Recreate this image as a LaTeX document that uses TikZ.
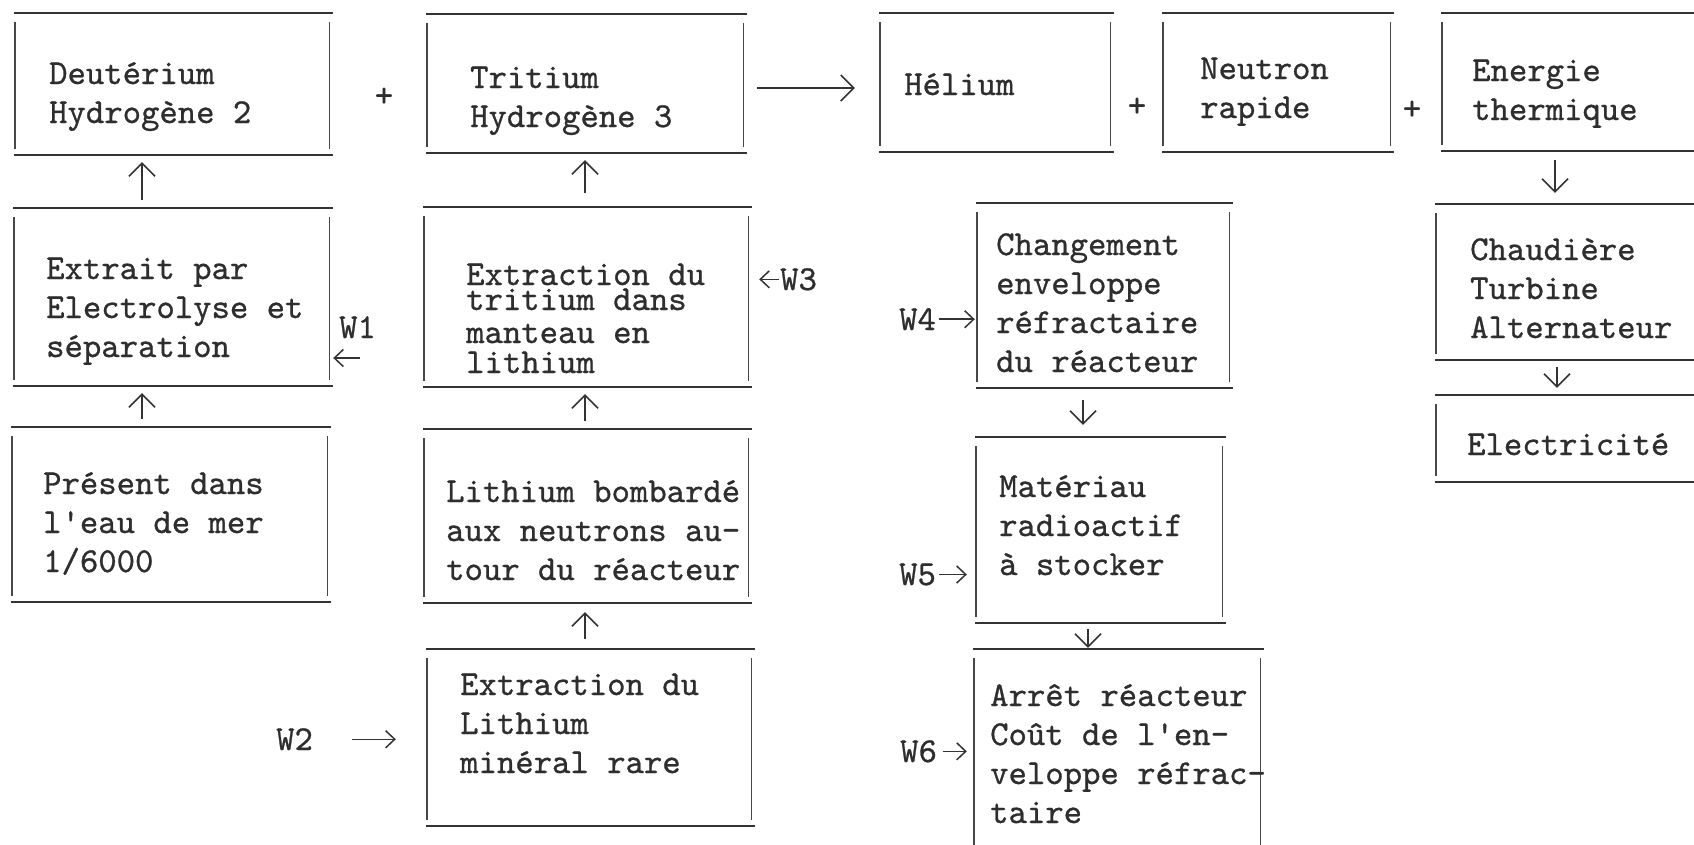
\documentclass[tikz,border=0pt]{standalone}
\usepackage{fontspec}
\newfontfamily\twfont{lmmono10-regular.otf}[FakeBold=0.8]
\usetikzlibrary{arrows.meta}
\begin{document}
\begin{tikzpicture}[x=1pt,y=-1pt,
  tbox/.style={draw=none, inner sep=0pt},
  hline/.style={draw=black!80, line width=2.1pt},
  vline/.style={draw=black!72, line width=1.4pt},
  txt/.style={anchor=base west, inner sep=0pt, align=left,
    font=\twfont\fontsize{35}{39}\selectfont, text=black!82},
  arr/.style={draw=black!80, line width=1.5pt,
    -{Straight Barb[length=13pt,width=26pt,line width=1.5pt]}},
  warr/.style={draw=black!80, line width=1.5pt,
    -{Straight Barb[length=9pt,width=17pt,line width=1.5pt]}}]
\useasboundingbox (0,0) rectangle (1694,844);
\clip (0,0) rectangle (1694,844);
% boxes
\node[tbox, minimum width=314pt, minimum height=142pt] (b1) at (172,84) {};
\node[tbox, minimum width=316pt, minimum height=139pt] (b2) at (585,83.5) {};
\node[tbox, minimum width=230pt, minimum height=139pt] (b3) at (995,82.5) {};
\node[tbox, minimum width=227pt, minimum height=139pt] (b3b) at (1276.5,82.5) {};
\node[tbox, minimum width=278pt, minimum height=138pt] (b3c) at (1581,82) {};
\node[tbox, minimum width=315pt, minimum height=178pt] (b4) at (171.5,297) {};
\node[tbox, minimum width=324pt, minimum height=180pt] (b5) at (586,297) {};
\node[tbox, minimum width=252pt, minimum height=185pt] (b6) at (1103,295.5) {};
\node[tbox, minimum width=284pt, minimum height=156pt] (b6c) at (1578,282) {};
\node[tbox, minimum width=315pt, minimum height=175pt] (b7) at (169.5,514.5) {};
\node[tbox, minimum width=324pt, minimum height=174pt] (b8) at (586,516) {};
\node[tbox, minimum width=324pt, minimum height=177pt] (b9) at (589,737.5) {};
\node[tbox, minimum width=246pt, minimum height=186pt] (b10) at (1099,530) {};
\node[tbox, minimum width=284pt, minimum height=87pt] (b11) at (1578,438.5) {};
\node[tbox, minimum width=286pt, minimum height=231pt] (b12) at (1117,764.5) {};
% typewritten box outlines: full horizontal rules, vertical rules not reaching the corners
\foreach \n in {b1,b2,b3,b3b,b3c,b4,b5,b6,b6c,b7,b8,b9,b10,b11,b12} {
  \draw[hline] ([xshift=-1pt]\n.north west) -- ([xshift=4pt]\n.north east)
               ([xshift=-1pt]\n.south west) -- ([xshift=4pt]\n.south east);
  \draw[vline] ([yshift=-9pt]\n.north west) -- ([yshift=6pt]\n.south west)
               ([yshift=-9pt]\n.north east) -- ([yshift=6pt]\n.south east);
}
% texts (anchor = baseline of the last line)
\node[txt] (t1) at (49,123) {Deutérium\\Hydrogène 2};
\node[txt] (t2) at (470,127) {Tritium\\Hydrogène 3};
\node[txt] (t3) at (904,95) {Hélium};
\node[txt] (t3b) at (1200,118) {Neutron\\rapide};
\node[txt] (t3c) at (1472,120) {Energie\\thermique};
\node[txt] (t4) at (46,357) {Extrait par\\Electrolyse et\\séparation};
\node[txt] (t5) at (466,373) {Extraction du\\[-14pt]tritium dans\\[-6pt]manteau en\\[-9pt]lithium};
\node[txt] (t6) at (996,372) {Changement\\enveloppe\\réfractaire\\du réacteur};
\node[txt] (t6c) at (1470,338) {Chaudière\\Turbine\\Alternateur};
\node[txt] (t7) at (43,572) {Présent dans\\l'eau de mer\\1/6000};
\node[txt] (t8) at (446,580) {Lithium bombardé\\aux neutrons au-\\tour du réacteur};
\node[txt] (t9) at (460,773) {Extraction du\\Lithium\\minéral rare};
\node[txt] (t10) at (999,575) {Matériau\\radioactif\\à stocker};
\node[txt] (t11) at (1467,455) {Electricité};
\node[txt] (t12) at (990,823) {Arrêt réacteur\\Coût de l'en-\\veloppe réfrac-\\taire};
% plus signs
\node[txt, anchor=center] (p1) at (384,97) {+};
\node[txt, anchor=center] (p2) at (1137,107) {+};
\node[txt, anchor=center] (p3) at (1412,110) {+};
% W labels
\node[txt] (w1) at (339,338) {W1};
\node[txt] (w2) at (276,750) {W2};
\node[txt] (w3) at (780,290) {W3};
\node[txt] (w4) at (899,330) {W4};
\node[txt] (w5) at (899,585) {W5};
\node[txt] (w6) at (900,762) {W6};
\coordinate (w1a) at (360,358);
% connectors
\draw[arr, shorten <=8pt, shorten >=7pt] (142,0 |- b4.north) -- (142,0 |- b1.south);
\draw[arr, shorten <=8pt, shorten >=7pt] (142,0 |- b7.north) -- (142,0 |- b4.south);
\draw[arr, shorten <=14pt, shorten >=7pt] (585,0 |- b5.north) -- (585,0 |- b2.south);
\draw[arr, shorten <=8pt, shorten >=7pt] (585,0 |- b8.north) -- (585,0 |- b5.south);
\draw[arr, shorten <=10pt, shorten >=9pt] (585,0 |- b9.north) -- (585,0 |- b8.south);
\draw[arr, shorten <=14pt, shorten >=25pt] (b2.east |- 0,88) -- (b3.west |- 0,88);
\draw[arr, shorten <=12pt, shorten >=12pt] (1083,0 |- b6.south) -- (1083,0 |- b10.north);
\draw[arr, shorten <=6pt, shorten >=1pt] (1088,0 |- b10.south) -- (1088,0 |- b12.north);
\draw[arr, shorten <=9pt, shorten >=11pt] (1555,0 |- b3c.south) -- (1555,0 |- b6c.north);
\draw[arr, shorten <=7pt, shorten >=7pt] (1557,0 |- b6c.south) -- (1557,0 |- b11.north);
\draw[warr, shorten >=4pt] (w1a) -- (w1a -| b4.east);
\draw[warr, shorten <=39pt, shorten >=31pt] (w2.east) -- (w2.east -| b9.west);
\draw[warr, shorten <=1pt, shorten >=11pt] (w3.west) -- (w3.west -| b5.east);
\draw[warr, shorten <=3pt, shorten >=2pt] (w4.east) -- (w4.east -| b6.west);
\draw[warr, shorten <=3pt, shorten >=9pt] (w5.east) -- (w5.east -| b10.west);
\draw[warr, shorten <=6pt, shorten >=7pt] (w6.east) -- (w6.east -| b12.west);
\end{tikzpicture}
\end{document}
